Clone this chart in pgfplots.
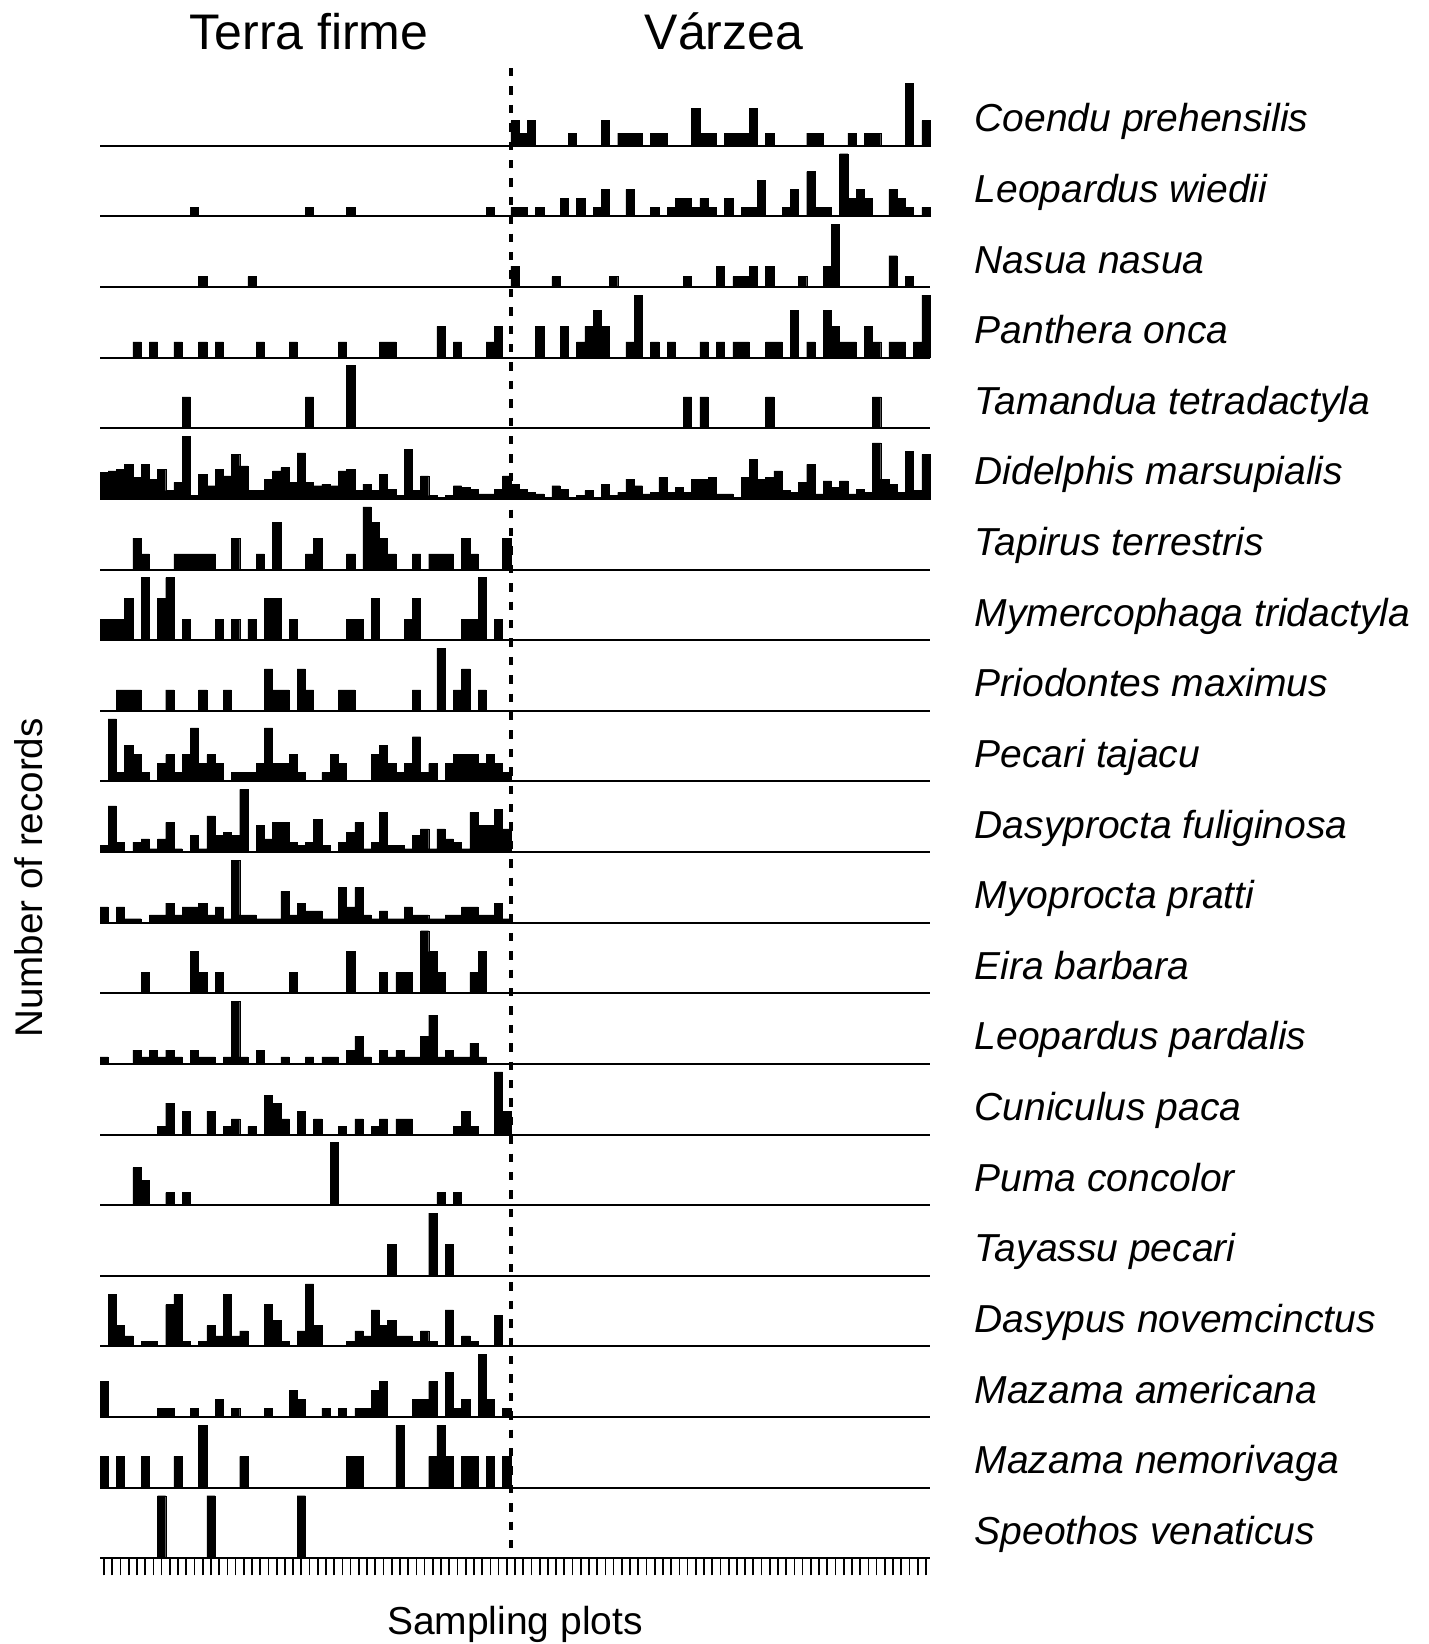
\documentclass[border=0pt]{standalone}
\usepackage{fontspec}
\setmainfont{Liberation Sans}
\usepackage{pgfplots}
\pgfplotsset{compat=1.18}
\pgfplotsset{rowax/.style={
  scale only axis, width=415pt, height=31.3pt,
  xmin=-0.5, xmax=100.5, ymin=0,
  axis x line*=bottom, axis y line=none,
  xtick=\empty, ytick=\empty,
  axis line style={line width=1pt, black},
  anchor=south west,
  ybar, bar width=1, bar shift=0pt,
  clip=false,
}}
\newcommand\sprow[5][]{%
  \begin{axis}[rowax, at={(50pt,-#2pt)}, ymax=#3, #1]
  \addplot[fill=black, draw=black, line width=0.2pt] coordinates {#5};
  \end{axis}
  \node[anchor=base west, font=\fontsize{19.5}{23}\selectfont\itshape] at (483.8pt,{-#2pt+7pt}) {#4};
}
\begin{document}
\begin{tikzpicture}
\path[use as bounding box] (0,0) rectangle (714.5pt,-822pt);

\sprow{72.85}{5}{Coendu prehensilis}{(50,2)(51,1)(52,2)(57,1)(61,2)(63,1)(64,1)(65,1)(67,1)(68,1)(72,3)(73,1)(74,1)(76,1)(77,1)(78,1)(79,3)(81,1)(86,1)(87,1)(91,1)(93,1)(94,1)(98,5)(100,2)}

\sprow{108.15}{7}{Leopardus wiedii}{(11,1)(25,1)(30,1)(47,1)(50,1)(51,1)(53,1)(56,2)(58,2)(60,1)(61,3)(64,3)(67,1)(69,1)(70,2)(71,2)(72,1)(73,2)(74,1)(76,2)(78,1)(79,1)(80,4)(83,1)(84,3)(86,5)(87,1)(88,1)(90,7)(91,2)(92,3)(93,2)(96,3)(97,2)(98,1)(100,1)}

\sprow{143.5}{6}{Nasua nasua}{(12,1)(18,1)(50,2)(55,1)(62,1)(71,1)(75,2)(77,1)(78,1)(79,2)(81,2)(85,1)(88,2)(89,6)(96,3)(98,1)}

\sprow{178.8}{4}{Panthera onca}{(4,1)(6,1)(9,1)(12,1)(14,1)(19,1)(23,1)(29,1)(34,1)(35,1)(41,2)(43,1)(47,1)(48,2)(53,2)(56,2)(58,1)(59,2)(60,3)(61,2)(64,1)(65,4)(67,1)(69,1)(73,1)(75,1)(77,1)(78,1)(81,1)(82,1)(84,3)(86,1)(88,3)(89,2)(90,1)(91,1)(93,2)(94,1)(96,1)(97,1)(99,1)(100,4)}

\sprow{214.1}{2}{Tamandua tetradactyla}{(10,1)(25,1)(30,2)(71,1)(73,1)(81,1)(94,1)}

\sprow{249.45}{19}{Didelphis marsupialis}{(0,8)(1,8.5)(2,9)(3,10.5)(4,6.5)(5,10.5)(6,6)(7,9)(8,2.5)(9,5)(10,19)(11,1)(12,7.5)(13,4)(14,9)(15,7)(16,13.5)(17,10)(18,2.5)(19,2.5)(20,6)(21,8.5)(22,9.5)(23,5)(24,14)(25,5)(26,4)(27,4.5)(28,4)(29,8.5)(30,9)(31,2.5)(32,4.5)(33,2.5)(34,7.5)(35,3)(36,1)(37,15)(38,2.5)(39,7)(40,1)(41,0.5)(42,1)(43,4)(44,3.5)(45,3)(46,1.5)(47,1.5)(48,3)(49,7)(50,4.5)(51,3)(52,2)(53,1.5)(54,0.5)(55,4)(56,3)(57,0.5)(58,1)(59,2.5)(60,0.5)(61,4.5)(62,1)(63,2)(64,6)(65,4)(66,1.5)(67,2)(68,6.5)(69,2)(70,3.5)(71,2)(72,6)(73,6)(74,6.5)(75,1.5)(76,1.5)(77,0.5)(78,6.5)(79,12)(80,6)(81,6.5)(82,8.5)(83,2.5)(84,2)(85,5)(86,10.5)(87,1.5)(88,5.5)(89,3.5)(90,5.5)(91,1.5)(92,3)(93,2)(94,17)(95,6)(96,4.5)(97,2)(98,14.5)(99,2.5)(100,13.5)}

\sprow{284.75}{4}{Tapirus terrestris}{(4,2)(5,1)(9,1)(10,1)(11,1)(12,1)(13,1)(16,2)(19,1)(21,3)(25,1)(26,2)(30,1)(32,4)(33,3)(34,2)(35,1)(38,1)(40,1)(41,1)(42,1)(44,2)(45,1)(49,2)}

\sprow{320.05}{3}{Mymercophaga tridactyla}{(0,1)(1,1)(2,1)(3,2)(5,3)(7,2)(8,3)(10,1)(14,1)(16,1)(18,1)(20,2)(21,2)(23,1)(30,1)(31,1)(33,2)(37,1)(38,2)(44,1)(45,1)(46,3)(48,1)}

\sprow{355.35}{3}{Priodontes maximus}{(2,1)(3,1)(4,1)(8,1)(12,1)(15,1)(20,2)(21,1)(22,1)(24,2)(25,1)(29,1)(30,1)(38,1)(41,3)(43,1)(44,2)(46,1)}

\sprow{390.7}{7}{Pecari tajacu}{(1,7)(2,1)(3,4)(4,3)(5,1)(7,2)(8,3)(9,1)(10,3)(11,6)(12,2)(13,3)(14,2)(16,1)(17,1)(18,1)(19,2)(20,6)(21,2)(22,2)(23,3)(24,1)(27,1)(28,3)(29,2)(33,3)(34,4)(35,2)(36,1)(37,2)(38,5)(39,1)(40,2)(42,2)(43,3)(44,3)(45,3)(46,2)(47,3)(48,2)(49,1)}

\sprow{426.0}{19}{Dasyprocta fuliginosa}{(0,2)(1,14)(2,3)(4,3)(5,4)(6,1)(7,4)(8,9)(9,1)(11,5)(12,1)(13,11)(14,5)(15,6)(16,5)(17,19)(19,8)(20,4)(21,9)(22,9)(23,3)(24,2)(25,3)(26,10)(27,2)(29,3)(30,6)(31,9)(32,1)(33,3)(34,12)(35,2)(36,2)(37,1)(38,5)(39,7)(40,1)(41,7)(42,4)(43,3)(44,1)(45,12)(46,8)(47,8)(48,13)(49,7)}

\sprow{461.3}{16}{Myoprocta pratti}{(0,4)(2,4)(3,1)(4,1)(6,2)(7,2)(8,5)(9,2)(10,4)(11,4)(12,5)(13,2)(14,4)(15,1)(16,16)(17,2)(18,2)(19,1)(20,1)(21,1)(22,8)(23,2)(24,5)(25,3)(26,3)(27,1)(28,1)(29,9)(30,4)(31,9)(32,2)(33,1)(34,3)(35,1)(36,1)(37,4)(38,2)(39,2)(40,1)(41,1)(42,2)(43,2)(44,4)(45,4)(46,2)(47,2)(48,5)(49,1)}

\sprow{496.65}{3}{Eira barbara}{(5,1)(11,2)(12,1)(14,1)(23,1)(30,2)(34,1)(36,1)(37,1)(39,3)(40,2)(41,1)(45,1)(46,2)}

\sprow{531.95}{9}{Leopardus pardalis}{(0,1)(4,2)(5,1)(6,2)(7,1)(8,2)(9,1)(11,2)(12,1)(13,1)(15,1)(16,9)(17,1)(19,2)(22,1)(25,1)(27,1)(28,1)(30,2)(31,4)(32,1)(34,2)(35,1)(36,2)(37,1)(38,1)(39,4)(40,7)(41,1)(42,2)(43,1)(44,1)(45,3)(46,1)}

\sprow{567.25}{8}{Cuniculus paca}{(7,1)(8,4)(10,3)(13,3)(15,1)(16,2)(18,1)(20,5)(21,4)(22,2)(24,3)(26,2)(29,1)(31,2)(33,1)(34,2)(36,2)(37,2)(43,1)(44,3)(45,1)(48,8)(49,3)}

\sprow{602.6}{5}{Puma concolor}{(4,3)(5,2)(8,1)(10,1)(28,5)(41,1)(43,1)}

\sprow{637.9}{2}{Tayassu pecari}{(35,1)(40,2)(42,1)}

\sprow{673.2}{12}{Dasypus novemcinctus}{(1,10)(2,4)(3,2)(5,1)(6,1)(8,8)(9,10)(10,1)(12,1)(13,4)(14,2)(15,10)(16,2)(17,3)(20,8)(21,5)(22,1)(24,3)(25,12)(26,4)(30,1)(31,3)(32,2)(33,7)(34,4)(35,5)(36,2)(37,2)(38,1)(39,3)(40,1)(42,7)(44,2)(45,1)(48,6)}

\sprow{708.5}{7}{Mazama americana}{(0,4)(7,1)(8,1)(11,1)(14,2)(16,1)(20,1)(23,3)(24,2)(27,1)(29,1)(31,1)(32,1)(33,3)(34,4)(38,2)(39,2)(40,4)(42,5)(43,1)(44,2)(46,7)(47,2)(49,1)}

\sprow{743.85}{2}{Mazama nemorivaga}{(0,1)(2,1)(5,1)(9,1)(12,2)(17,1)(30,1)(31,1)(36,2)(40,1)(41,2)(42,1)(44,1)(45,1)(47,1)(49,1)}

\sprow[xtick={0,...,100}, xticklabel=\empty, tick align=outside, major tick length=8.5pt, tick style={line width=0.85pt, black}]{779.15}{1}{Speothos venaticus}{(7,1)(13,1)(24,1)}

\draw[black, line width=1.9pt, dash pattern=on 4.2pt off 5pt] (255.4pt,-34pt) -- (255.4pt,-779pt);

\node[anchor=base, font=\fontsize{25}{30}\selectfont] at (154.5pt,-24.5pt) {Terra firme};
\node[anchor=base, font=\fontsize{25}{30}\selectfont] at (362pt,-24.5pt) {Várzea};
\node[rotate=90, anchor=base, font=\fontsize{19.3}{23}\selectfont] at (21.2pt,-439pt) {Number of records};
\node[anchor=base, font=\fontsize{19.5}{23}\selectfont] at (257.5pt,-817pt) {Sampling plots};
\end{tikzpicture}
\end{document}
